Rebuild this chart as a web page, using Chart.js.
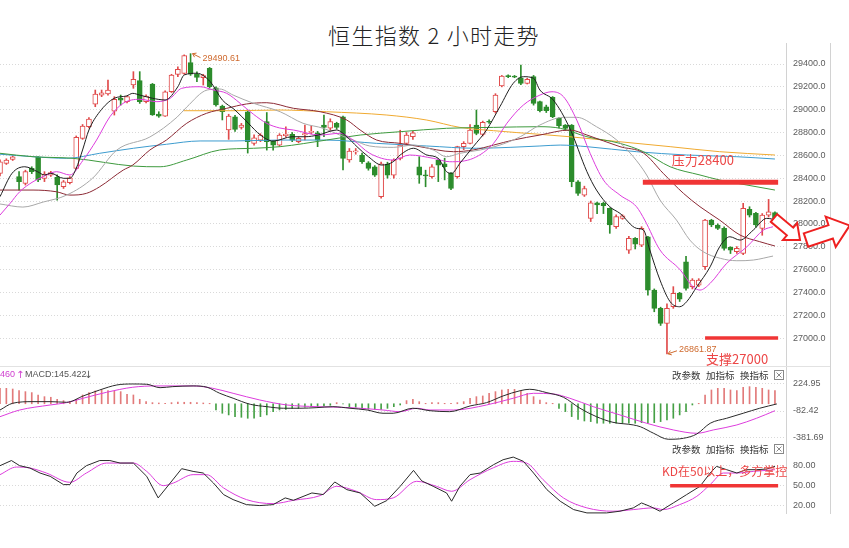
<!DOCTYPE html>
<html>
<head>
<meta charset="utf-8">
<script src="https://cdn.jsdelivr.net/npm/chart.js@4.4.1/dist/chart.umd.min.js"></script>
<style>
html,body{margin:0;padding:0;background:#ffffff;}
body{width:849px;height:548px;position:relative;overflow:hidden;}
#title{position:absolute;left:0;top:20px;width:868px;text-align:center;font-family:"Noto Sans CJK SC","Noto Sans",sans-serif;font-weight:300;font-size:22px;letter-spacing:1.3px;line-height:28px;color:#222;white-space:pre;}
canvas{position:absolute;left:0;}
</style>
</head>
<body>
<div id="title">恒生指数 2 小时走势</div>
<canvas id="cMain" width="849" height="323" style="top:43px"></canvas>
<canvas id="cMacd" width="849" height="75" style="top:366px"></canvas>
<canvas id="cKd" width="849" height="73" style="top:441px"></canvas>
<script>
// ---------------- DATA ----------------
const opens  = [28442,28530,28565,28413,28354,28486,28582,28398,28427,28407,28325,28360,28486,28749,28851,29049,29128,29137,28988,29099,29070,29216,29254,29070,29225,28962,28944,29157,29309,29318,29412,29309,29280,29362,29192,29032,28822,28938,28845,28982,28705,28734,28895,28725,28690,28773,28784,28720,28780,28800,28798,28865,28837,28880,28938,28559,28630,28603,28535,28500,28238,28524,28427,28573,28705,28763,28500,28427,28413,28559,28525,28442,28413,28676,28705,28865,28784,28897,28982,29207,29295,29290,29280,29230,29289,29070,29026,29108,28924,28865,28865,28369,28252,28048,28185,28180,28136,27975,28048,27770,27873,27814,27887,27420,27260,27128,27274,27391,27668,27450,27464,27625,28033,27990,27960,27794,27756,27741,28127,28092,27960,28077,28098];
const highs  = [28560,28570,28595,28457,28470,28500,28590,28457,28460,28430,28380,28415,28770,28870,28930,29172,29172,29260,29114,29128,29120,29333,29333,29130,29230,28982,29165,29310,29376,29480,29490.61,29332,29310,29370,29200,29040,28960,28950,28880,28990,28780,28790,28975,28730,28790,28850,28800,28760,28865,28857,28810,28953,28920,28890,28945,28660,28660,28620,28545,28510,28540,28540,28570,28820,28800,28810,28588,28470,28520,28570,28575,28450,28680,28720,28870,28997,28900,28910,29140,29300,29305,29300,29390,29275,29300,29075,29040,29115,28930,28870,28870,28380,28330,28200,28190,28190,28140,28080,28080,27890,27880,27975,27890,27430,27270,27300,27450,27400,27715,27520,27520,28040,28040,28000,27975,27800,27800,28180,28150,28100,28090,28214,28105];
const lows   = [28420,28520,28555,28296,28340,28440,28370,28370,28415,28208,28310,28350,28480,28740,28840,29026,29114,29128,28953,29040,29060,29187,29055,29060,28950,28933,28940,29150,29289,29310,29300,29245,29216,29190,29030,28910,28740,28810,28830,28620,28690,28720,28646,28646,28680,28760,28720,28710,28735,28787,28676,28763,28820,28830,28472,28540,28610,28530,28470,28415,28225,28400,28400,28560,28690,28740,28355,28325,28400,28370,28385,28300,28400,28650,28700,28780,28770,28880,28970,29200,29280,29280,29220,29225,29040,28980,28975,28930,28840,28820,28325,28250,28240,28020,28090,28090,27917,27960,28040,27740,27780,27800,27376,27230,27110,26861.87,27260,27320,27420,27430,27450,27600,27975,27950,27770,27740,27740,27730,28060,27970,27900,28060,28040];
const closes = [28544,28559,28588,28369,28457,28457,28384,28436,28448,28340,28369,28404,28757,28857,28918,29137,29148,29172,29090,29084,29114,29265,29070,29120,28953,28944,29157,29303,29353,29473,29312,29283,29298,29201,29041,28982,28944,28827,28865,28720,28754,28778,28720,28690,28778,28787,28734,28749,28790,28810,28734,28845,28895,28845,28573,28638,28640,28545,28486,28427,28525,28427,28559,28690,28778,28798,28427,28420,28500,28515,28500,28310,28676,28705,28822,28793,28889,28890,29128,29295,29290,29285,29230,29265,29055,28991,28991,28938,28857,28836,28369,28267,28310,28185,28165,28160,27990,28063,28070,27873,27823,27960,27420,27260,27128,27260,27391,27340,27435,27508,27508,28033,27990,27960,27785,27770,27785,28136,28077,27990,28077,28106,28048];

// moving averages: [candle index, price]
const ma5 = [[0,28238],[1.9,28443],[3.9,28500],[5.9,28457],[7,28428],[8,28443],[10,28399],[11,28399],[12,28486],[13,28647],[14,28822],[15.7,28982],[18,29100],[19.9,29120],[20.9,29143],[22,29128],[24,29100],[26,29085],[28,29201],[29,29304],[31,29319],[33.1,29245],[35,29085],[37,28997],[39.1,28881],[41,28778],[43,28725],[46,28763],[48,28763],[50.1,28778],[53,28822],[54.6,28763],[56.2,28676],[58,28588],[60.1,28515],[61.9,28544],[63,28603],[65.1,28662],[67.2,28603],[69,28574],[70.3,28457],[71.1,28443],[72.4,28530],[74.5,28676],[76.6,28822],[78.7,29026],[80.8,29231],[82.4,29289],[84,29275],[85,29172],[87.1,29085],[89.7,28837],[92.4,28457],[93.9,28296],[96,28150],[97.6,28092],[100.2,27961],[101.3,27946],[102.3,27771],[103.9,27508],[105.5,27318],[107,27274],[108.1,27318],[109.7,27449],[111.8,27624],[113.3,27800],[114.9,27887],[116.5,27858],[118.6,27946],[120.7,28048],[122.3,28033]];
const ma10 = [[0,28077],[1.6,28180],[3.1,28281],[5.2,28369],[6.8,28413],[8.9,28457],[11,28428],[13.1,28559],[15.2,28734],[17.3,28938],[19.4,29056],[22,29091],[24.7,29070],[26.8,29100],[28.6,29187],[31.5,29201],[33.6,29172],[35.7,29143],[37.8,29056],[39.9,28960],[42,28880],[44,28840],[46.2,28822],[50.4,28778],[53.5,28793],[55.6,28734],[58.2,28618],[61.9,28559],[64.5,28603],[68.2,28574],[70.8,28544],[74.5,28574],[77.7,28705],[79.8,28881],[82.4,29041],[85,29128],[86.9,29157],[88.7,29114],[90.8,28909],[92.9,28618],[95,28384],[97.6,28252],[100.2,28150],[101.5,28033],[103.9,27771],[107.1,27596],[109.1,27449],[110.2,27420],[111.8,27479],[114.4,27654],[117.6,27800],[120.2,27946],[121.7,27975]];
const ma20 = [[0,28174],[3.6,28147],[6.8,28191],[10.5,28252],[14.6,28401],[18.4,28647],[23.6,28761],[27.9,28936],[29.4,29023],[32.6,29172],[34.6,29181],[36.7,29128],[39.8,29058],[44.1,28982],[47.7,28881],[50.9,28837],[53.5,28778],[55.6,28734],[58.2,28682],[61.9,28670],[65.1,28690],[68.2,28647],[70.3,28588],[72.4,28618],[75.6,28647],[78.7,28690],[81.9,28763],[85,28866],[88.7,28933],[90.8,28933],[93.9,28851],[97.1,28734],[99.7,28588],[101.8,28428],[103.9,28209],[106.5,28033],[108.6,27858],[110.7,27756],[113.4,27698],[116,27677],[118.6,27683],[121.7,27718]];
const ma30 = [[0,28296],[5.2,28296],[8.9,28281],[11,28252],[13.6,28267],[15.7,28325],[19.4,28471],[20.9,28515],[23.6,28647],[26.2,28734],[29.4,28881],[32.5,28968],[35.7,29012],[38.8,29050],[42,29061],[46.2,29012],[50.4,28982],[54.6,28909],[56.7,28822],[59.3,28734],[63,28705],[66.1,28676],[71.4,28632],[74.5,28647],[77.7,28690],[80.8,28734],[85,28778],[89.7,28822],[92.4,28778],[97.6,28676],[101.3,28620],[104.4,28443],[107.6,28267],[110.2,28150],[113.3,28033],[116.5,27902],[119.6,27844],[122,27806]];
const ma60 = [[0,28618],[5.2,28588],[11.5,28574],[21,28506],[25.2,28500],[29.4,28559],[34.6,28647],[39.9,28662],[44.1,28676],[51.4,28734],[56.7,28778],[63,28807],[70.3,28837],[77.7,28845],[85,28851],[88.2,28837],[92.4,28763],[97.6,28705],[101.3,28632],[105.5,28500],[110.2,28428],[113.3,28384],[117.6,28340],[122,28296]];
const ma120 = [[0,28610],[5.2,28588],[10.5,28574],[15.7,28618],[21,28662],[26.2,28697],[31.5,28726],[36.7,28726],[44.1,28734],[51.4,28734],[59.3,28705],[67.2,28682],[75,28662],[80.3,28670],[85,28682],[88.2,28690],[92.4,28676],[100.2,28632],[108.1,28603],[116,28588],[122,28568]];
const ma250 = [[28.9,28991],[36.7,28991],[44.1,28997],[51.4,28982],[60.9,28953],[67.2,28909],[72.4,28845],[77.7,28816],[85,28784],[89.7,28763],[97.6,28719],[105.5,28676],[113.3,28632],[122,28603]];

// resistance / support marks [index, price]
const resistLine = [[101.2,28365],[122.5,28365]];
const supportLine = [[111,27000],[122.5,27000]];
const mainTicks = [29400,29200,29000,28800,28600,28400,28200,28000,27800,27600,27400,27200,27000];

// MACD
const macdHist = [176,176,168,149,138,127,100,81,74,51,36,24,
 51,100,127,146,157,149,146,138,108,100,51,24,
 13,9,5,13,20,17,17,13,9,5,
 -70,-108,-127,-146,-154,-165,-165,-146,-127,-89,-70,-63,
 -52,-52,-40,-33,-33,-25,-17,13,
 -2,-33,-40,-52,-63,-63,-63,-52,-33,-14,
 36,51,24,5,13,13,5,5,13,24,
 62,81,89,119,138,157,164,164,149,119,81,43,13,5,
 -52,-89,-146,-177,-196,-203,-222,-222,-222,-222,-222,-222,
 -222,-215,-222,-215,-203,-184,-165,-127,-89,-14,5,
 100,157,176,176,157,149,187,195,187,176,157,149];
const macdDif = [[0,-71],[2,6],[5.2,24],[7.9,24],[10.5,17],[13.1,89],[15.7,157],[18.4,214],[20.9,225],[23.1,222],[25.2,183],[27.2,195],[30.4,203],[32.6,188],[34.6,119],[36.7,63],[39.4,-6],[42,-33],[44.6,-51],[47.2,-51],[49.9,-44],[52.4,-33],[55.1,-51],[57.8,-71],[60.3,-108],[61.9,-108],[65,-51],[67.7,-79],[70.8,-90],[74,-25],[76.6,13],[79.2,89],[81.9,149],[83.4,165],[86.1,126],[88.7,74],[91.3,-51],[93.9,-147],[96.5,-211],[99.7,-241],[100.8,-261],[102.9,-336],[105.2,-404],[107.6,-393],[109.7,-344],[111.8,-222],[114.4,-165],[117,-108],[119.6,-51],[122.3,-2]];
const macdDea = [[0,-147],[3.1,-71],[7.9,-14],[10.5,13],[13.1,63],[16.8,131],[20.9,188],[24.7,203],[30.4,203],[33.5,176],[36.7,119],[40.9,43],[45.2,-14],[49.9,-33],[55.1,-44],[60.3,-71],[63,-90],[65.6,-51],[67.7,-71],[71.4,-71],[76.6,-14],[80.8,63],[84,119],[87.1,112],[89.7,63],[93.4,-33],[97.6,-127],[101.8,-222],[106,-298],[109.7,-336],[112.3,-298],[116,-241],[119.1,-165],[122,-79]];
const macdTicks = [224.95,-82.42,-381.69];
const macdHeader = ['460', 'MACD:145.422'];

// KD
const kdK = [[0,79.4],[1.8,87],[3.1,79.4],[4.7,76],[6.3,68.6],[7.9,63.7],[10,51.5],[11,51.5],[12.1,68.6],[13.6,79.4],[15.7,87],[17.3,87],[18.9,83.3],[21,83.3],[23.1,63.7],[24.9,31.9],[26.8,53.9],[28.6,75],[30.4,71],[32,68.6],[33.6,53.9],[35.2,36.8],[36.7,29.4],[38.8,22],[40.9,20.6],[43,22],[44.9,31.9],[46.2,28.4],[49.1,39.2],[50.9,36.8],[52.7,55.4],[54.6,44.1],[56.7,39.2],[59,19.6],[60.9,28],[63,49],[65.1,72.5],[66.4,57],[68.2,49],[70.3,39.2],[71.1,27],[72.4,49],[74,66.2],[75.6,68.6],[77.7,80.9],[79.2,88.2],[80.8,92.1],[82.4,85.8],[84,68.6],[86.1,44.1],[88.2,27],[90.3,14.7],[92.4,9.8],[95.5,9.8],[97.6,12.3],[99.7,17.2],[101,24.5],[102.3,19.6],[103.9,12.3],[106,24.5],[108.1,36.8],[110.2,49],[111.8,68.6],[112.8,78.4],[114.4,73.5],[116,68.6],[117.5,73.5],[119.1,73.5],[120.7,74.5],[122,78.4]];
const kdD = [[0,66.2],[2.6,77.4],[4.7,76],[7.3,68.6],[11,54.9],[13.6,68.6],[16.8,83.3],[21,83.3],[23.1,71],[25.7,50],[27.3,53.9],[30.4,66.2],[32.5,66.2],[35.2,46.6],[38.8,29.4],[43,23.5],[46.2,28.4],[50.4,35.3],[53,49],[56.1,41.7],[59.3,29.4],[61.9,31.9],[65.6,56.4],[68.7,49],[71.1,41.7],[74,58.8],[77.7,76.5],[80.8,85.8],[82.9,83.3],[85.5,58.8],[88.7,31.9],[92.4,17.2],[96.5,12.3],[99.7,14.7],[102.8,17.2],[104.4,14.7],[107,22],[109.7,34.3],[111.8,51.5],[113.9,68.6],[116,68.6],[118.6,71],[122,73.5]];
const kdLine50 = [[105.5,50],[122.5,50]];
const kdTicks = [80,50,20];

// ---------------- STYLE / HELPERS ----------------
const RED = '#e04a4a', GREEN = '#2c8c2c';
const HRED = '#e27a7a', HGREEN = '#45a045';
const MARK_RED = '#f03535';
const N = opens.length;
const idx = Array.from({length:N}, (_, i) => i);
const isUp = i => closes[i] >= opens[i];
const pts = a => a.map(p => ({x:p[0], y:p[1]}));
const TICKFONT = {family:'"Liberation Sans", Arial, sans-serif', size:9};
const CJK = '"Noto Sans CJK SC", "Noto Sans", sans-serif';

function lineDs(arr, color, w, order){
  return {type:'line', data:pts(arr), borderColor:color, borderWidth:w||1, pointRadius:0,
    cubicInterpolationMode:'monotone', fill:false, order:order===undefined?1:order};
}
function markDs(arr, w){
  return {type:'line', data:pts(arr), borderColor:MARK_RED, borderWidth:w, pointRadius:0,
    tension:0, fill:false, borderCapStyle:'butt', order:0};
}
function xAxis(){
  return {type:'linear', min:0, max:123.74, offset:false, display:false, grid:{offset:false}};
}
function yAxis(min, max, ticks, fmt){
  return {position:'right', min:min, max:max, beginAtZero:false,
    afterFit(s){ s.width = 44; s.paddingTop = 0; s.paddingBottom = 0; },
    afterBuildTicks(s){ s.ticks = ticks.map(v => ({value:v})); },
    grid:{color:'#d9d9d9', lineWidth:1, drawTicks:false},
    border:{display:false, dash:[1,2]},
    ticks:{padding:7, color:'#5c5c5c', font:TICKFONT, autoSkip:false, callback:v => fmt(v)}};
}
function frameLines(chart){
  const ctx = chart.ctx;
  ctx.save();
  ctx.strokeStyle = '#d2d2d2'; ctx.lineWidth = 1;
  [786.5, 830.5].forEach(px => { ctx.beginPath(); ctx.moveTo(px, 0); ctx.lineTo(px, chart.height); ctx.stroke(); });
  ctx.restore();
}
function panelHeader(ctx, y){
  ctx.save();
  ctx.font = '9.5px ' + CJK;
  ctx.fillStyle = '#333';
  ctx.textBaseline = 'middle';
  ctx.textAlign = 'left';
  ctx.fillText('改参数', 672, y);
  ctx.fillText('加指标', 706, y);
  ctx.fillText('换指标', 740, y);
  ctx.strokeStyle = '#888'; ctx.lineWidth = 1;
  ctx.strokeRect(774.5, y - 4.5, 9, 9);
  ctx.beginPath();
  ctx.moveTo(776.5, y - 2.5); ctx.lineTo(781.5, y + 2.5);
  ctx.moveTo(781.5, y - 2.5); ctx.lineTo(776.5, y + 2.5);
  ctx.stroke();
  ctx.restore();
}
function blockArrow(ctx, tx, ty, len, s, h, hl, ang){
  ctx.save();
  ctx.translate(tx, ty); ctx.rotate(ang);
  ctx.beginPath();
  ctx.moveTo(0, -s); ctx.lineTo(len - hl, -s); ctx.lineTo(len - hl, -h); ctx.lineTo(len, 0);
  ctx.lineTo(len - hl, h); ctx.lineTo(len - hl, s); ctx.lineTo(0, s); ctx.closePath();
  ctx.fillStyle = '#fff'; ctx.fill();
  ctx.strokeStyle = '#ee2020'; ctx.lineWidth = 2; ctx.lineJoin = 'miter'; ctx.stroke();
  ctx.restore();
}
function leader(ctx, x1, y1, x2, y2, color){
  ctx.save();
  ctx.strokeStyle = color; ctx.lineWidth = 1;
  ctx.beginPath(); ctx.moveTo(x1, y1); ctx.lineTo(x2, y2); ctx.stroke();
  const a = Math.atan2(y2 - y1, x2 - x1);
  ctx.beginPath();
  ctx.moveTo(x2 - 4*Math.cos(a - 0.6), y2 - 4*Math.sin(a - 0.6));
  ctx.lineTo(x2, y2);
  ctx.lineTo(x2 - 4*Math.cos(a + 0.6), y2 - 4*Math.sin(a + 0.6));
  ctx.stroke();
  ctx.restore();
}

// ---------------- MAIN CHART ----------------
const hiIdx = highs.indexOf(Math.max(...highs));
const loIdx = lows.indexOf(Math.min(...lows));

const mainPlugin = {
  id:'mainDeco',
  afterDraw(chart){
    const {ctx, scales:{x, y}} = chart;
    frameLines(chart);
    ctx.save();
    const LBL = '#cf6a2e';
    const hx = x.getPixelForValue(hiIdx), hy = y.getPixelForValue(highs[hiIdx]);
    leader(ctx, hx + 10, hy + 4, hx + 2, hy, LBL);
    ctx.font = '9px "Liberation Sans", Arial, sans-serif';
    ctx.fillStyle = LBL; ctx.textBaseline = 'middle'; ctx.textAlign = 'left';
    ctx.fillText(highs[hiIdx].toFixed(2), hx + 12, hy + 5);
    const lx = x.getPixelForValue(loIdx), ly = y.getPixelForValue(lows[loIdx]);
    leader(ctx, lx + 10, ly - 3, lx + 1, ly, LBL);
    ctx.fillText(lows[loIdx].toFixed(2), lx + 12, ly - 4);
    ctx.font = '13px ' + CJK;
    ctx.fillStyle = '#ec4646';
    ctx.fillText('压力' + mainTicks[5], x.getPixelForValue(resistLine[0][0]) + 29, y.getPixelForValue(resistLine[0][1]) - 22);
    ctx.fillText('支撑' + supportLine[0][1], x.getPixelForValue(supportLine[0][0]) + 1, y.getPixelForValue(supportLine[0][1]) + 21);
    ctx.restore();
    blockArrow(ctx, 774, 175, 34, 5, 11, 13, 0.70);
    blockArrow(ctx, 806, 197, 46, 7, 16, 20, -0.32);
  }
};

new Chart(document.getElementById('cMain'), {
  type:'bar',
  data:{datasets:[
    markDs(resistLine, 5),
    markDs(supportLine, 3.5),
    lineDs(ma5, '#1e1e1e'),
    lineDs(ma10, '#dd3ddd'),
    lineDs(ma20, '#a8a8a8'),
    lineDs(ma30, '#8c2a35'),
    lineDs(ma60, '#3e9a3e'),
    lineDs(ma120, '#3d9ccf'),
    lineDs(ma250, '#f0aa30'),
    {type:'bar', data: idx.map(i => ({x:i, y:[opens[i], closes[i]]})),
      backgroundColor: c => (c.dataIndex === undefined) ? RED : (isUp(c.dataIndex) ? '#ffffff' : GREEN),
      borderColor: c => (c.dataIndex === undefined) ? RED : (isUp(c.dataIndex) ? RED : GREEN),
      borderWidth:1, borderSkipped:false, barThickness:5, minBarLength:1, grouped:false, order:2},
    {type:'bar', data: idx.map(i => ({x:i, y:[lows[i], highs[i]]})),
      backgroundColor: c => (c.dataIndex === undefined) ? RED : (isUp(c.dataIndex) ? RED : GREEN),
      borderWidth:0, barThickness:1, grouped:false, order:3}
  ]},
  options:{
    responsive:false, animation:false, events:[],
    layout:{padding:{left:0, right:19, top:0, bottom:0}},
    plugins:{legend:{display:false}, tooltip:{enabled:false}, title:{display:false}},
    scales:{ x:xAxis(), y:yAxis(26755, 29584, mainTicks, v => v.toFixed(1)) }
  },
  plugins:[mainPlugin]
});

// ---------------- MACD CHART ----------------
const macdPlugin = {
  id:'macdDeco',
  afterDraw(chart){
    const ctx = chart.ctx;
    frameLines(chart);
    ctx.save();
    ctx.strokeStyle = '#e2e2e2'; ctx.lineWidth = 1;
    ctx.beginPath(); ctx.moveTo(0, 0.5); ctx.lineTo(830, 0.5); ctx.stroke();
    ctx.font = '9px "Liberation Sans", Arial, sans-serif';
    ctx.textBaseline = 'middle'; ctx.textAlign = 'left';
    ctx.fillStyle = '#d040d0';
    ctx.fillText(macdHeader[0], 0, 9);
    ctx.font = '10px "DejaVu Sans", sans-serif';
    ctx.fillText('↑', 16, 9);
    ctx.fillStyle = '#555';
    ctx.font = '9px "Liberation Sans", Arial, sans-serif';
    ctx.fillText(macdHeader[1], 25, 9);
    ctx.font = '10px "DejaVu Sans", sans-serif';
    ctx.fillText('↓', 84, 9);
    ctx.restore();
    panelHeader(ctx, 9);
  }
};

new Chart(document.getElementById('cMacd'), {
  type:'bar',
  data:{datasets:[
    lineDs(macdDif, '#2a2a2a'),
    lineDs(macdDea, '#dd3ddd'),
    {type:'bar', data: idx.map(i => ({x:i, y:macdHist[i]})),
      backgroundColor: c => (c.dataIndex === undefined) ? HRED : (macdHist[c.dataIndex] >= 0 ? HRED : HGREEN),
      borderWidth:0, barThickness:1, grouped:false, order:2}
  ]},
  options:{
    responsive:false, animation:false, events:[],
    layout:{padding:{left:0, right:19, top:0, bottom:0}},
    plugins:{legend:{display:false}, tooltip:{enabled:false}},
    scales:{ x:xAxis(), y:yAxis(-423.8, 429.8, macdTicks, v => v.toFixed(2)) }
  },
  plugins:[macdPlugin]
});

// ---------------- KD CHART ----------------
const kdPlugin = {
  id:'kdDeco',
  afterDraw(chart){
    const ctx = chart.ctx;
    frameLines(chart);
    panelHeader(ctx, 8);
    ctx.save();
    ctx.font = '12px ' + CJK;
    ctx.fillStyle = '#ec4646';
    ctx.textBaseline = 'middle'; ctx.textAlign = 'left';
    ctx.fillText('KD在' + kdLine50[0][1] + '以上，多方掌控', 662, 30.5);
    ctx.restore();
  }
};

new Chart(document.getElementById('cKd'), {
  type:'line',
  data:{datasets:[
    markDs(kdLine50, 3.5),
    {...lineDs(kdK, '#2a2a2a'), cubicInterpolationMode:'default', tension:0},
    lineDs(kdD, '#dd3ddd')
  ]},
  options:{
    responsive:false, animation:false, events:[],
    layout:{padding:{left:0, right:19, top:0, bottom:0}},
    plugins:{legend:{display:false}, tooltip:{enabled:false}},
    scales:{ x:xAxis(), y:yAxis(8.2, 115.8, kdTicks, v => v.toFixed(2)) }
  },
  plugins:[kdPlugin]
});
</script>
</body>
</html>
